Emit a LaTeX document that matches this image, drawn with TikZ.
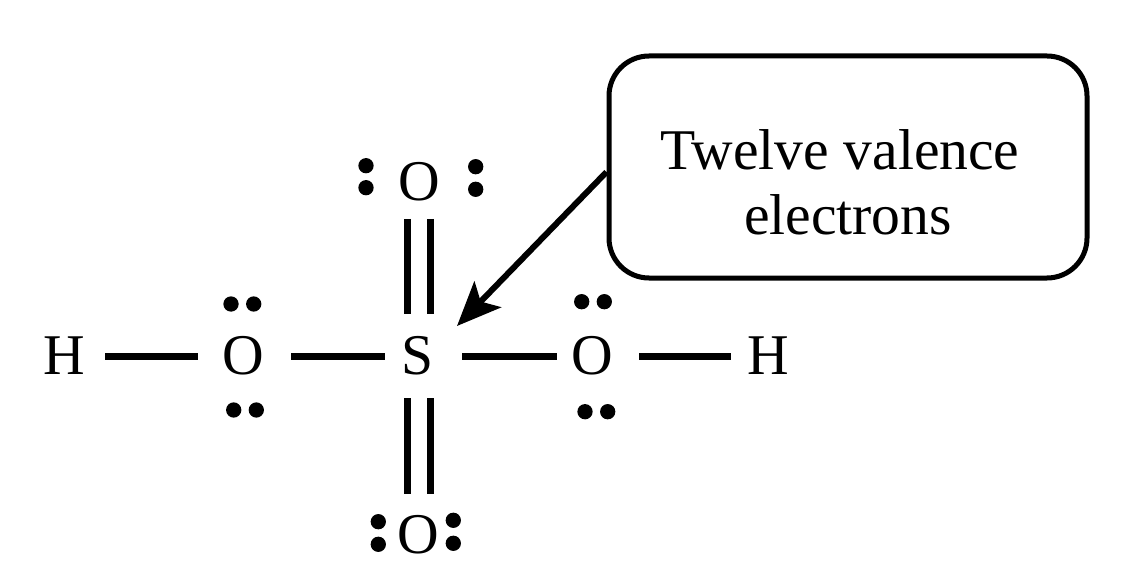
\documentclass[tikz,border=0pt]{standalone}
\usepackage{fontspec}
\setmainfont{Liberation Serif}
\usetikzlibrary{arrows.meta}
\tikzset{atom/.style={inner sep=0pt,outer sep=0pt,minimum width=66pt,minimum height=84pt,font=\fontsize{57.6}{57.6}\selectfont},
  bond/.style={line width=7pt,line cap=butt},
  lonepair/.style={circle,fill=black,inner sep=0pt,minimum size=15.3pt}}
\begin{document}
\begin{tikzpicture}[x=1pt,y=-1pt,line join=round,>=stealth]
	\useasboundingbox (0,0) rectangle (1126,577);
	% atoms
	\node[atom] (hleft) at (64,356) {H};
	\node[atom] (oleft) at (243,356) {O};
	\node[atom] (sulfur) at (418,356) {S};
	\node[atom] (oright) at (592,356) {O};
	\node[atom] (hright) at (768,356) {H};
	\node[atom,minimum height=74pt] (otop) at (419,182) {O};
	\node[atom,minimum height=82pt] (obottom) at (418,535) {O};
	% bonds
	\draw[bond,shorten <=8pt,shorten >=12pt] (hleft) -- (oleft);
	\draw[bond,shorten <=15pt] (oleft) -- (sulfur);
	\draw[bond,shorten <=11pt,shorten >=2pt] (sulfur) -- (oright);
	\draw[bond,shorten <=14pt,shorten >=4pt] (oright) -- (hright);
	\draw[bond] ([xshift=-11.3pt]otop.south) -- ([xshift=-11.3pt]otop.south|-sulfur.north);
	\draw[bond] ([xshift=11.4pt]otop.south) -- ([xshift=11.4pt]otop.south|-sulfur.north);
	\draw[bond] ([xshift=-10.3pt]sulfur.south) -- ([xshift=-10.3pt]sulfur.south|-obottom.north);
	\draw[bond] ([xshift=12.4pt]sulfur.south) -- ([xshift=12.4pt]sulfur.south|-obottom.north);
	% lone pairs
	\foreach \nm/\px/\py in {a/366/165.7,b/366/187.7,c/475.7/166.7,d/475.7/189.3,
		e/231/304,f/253.7/304,g/233.7/410,h/256.3/410,
		i/581.7/301.7,j/604.3/301.7,k/585/411.7,l/607.7/411.7,
		m/378.3/521.7,n/378.3/544.3,o/453.3/520.3,p/453.3/543.3}
		\node[lonepair] (dot\nm) at (\px,\py) {};
	% callout
	\node[draw,line width=5pt,rounded corners=40pt,minimum width=478pt,minimum height=222pt,align=center,
		font=\fontsize{57.6}{65}\selectfont] (callout) at (848,167)
		{\rule{0pt}{70pt}Twelve valence\hspace*{16pt}\\electrons};
	\coordinate (tip) at (457,326);
	\draw[line width=6pt,-{Stealth[length=44pt,width=37pt,inset=10pt]}] (callout.west|-0,172) -- (tip);
\end{tikzpicture}
\end{document}
